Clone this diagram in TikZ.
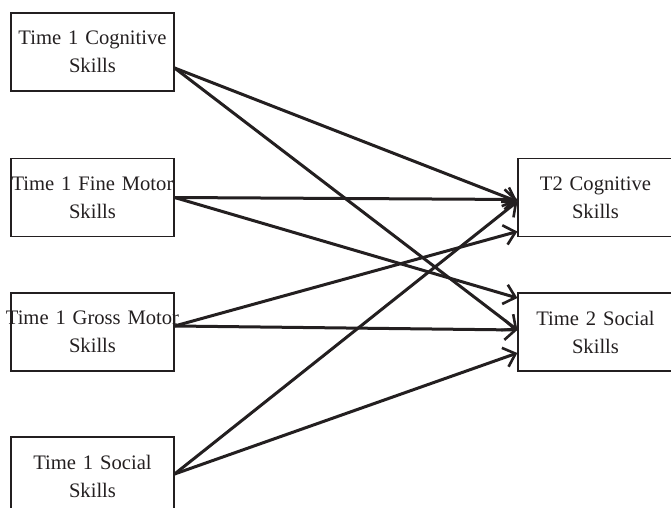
\documentclass[tikz,border=0pt]{standalone}
\usepackage{fontspec}
\setmainfont{Liberation Serif}
\usepackage{tikz}
\usetikzlibrary{arrows.meta}
\definecolor{inkx}{HTML}{231F20}
\tikzset{
  ar/.style={-{Straight Barb[length=5.5pt,width=10pt,line width=1.3pt]},line width=1.5pt,inkx},
  box/.style={draw=inkx,line width=0.6pt,text width=81.5pt,minimum height=39pt,align=center,inner sep=0pt,
    font=\fontsize{10.3}{14}\selectfont,text=inkx},
  outbox/.style={box,text width=77.5pt}
}
\begin{document}
\begin{tikzpicture}[x=0.5pt,y=-0.5pt]
\useasboundingbox (0,0) rectangle (671,508);
\clip (0,0) rectangle (671,508);
% time 1 measures
\node[box] (cog1) at (92.5,52) {Time 1 Cognitive\\Skills};
\node[box] (fine1) at (92.5,197.5) {\makebox[81.5pt]{Time 1 Fine Motor}\\Skills};
\node[box] (gross1) at (92.5,332) {\makebox[81.5pt]{Time 1 Gross Motor}\\Skills};
\node[box] (soc1) at (92.5,476) {Time 1 Social\\Skills};
% time 2 outcomes
\node[outbox] (cog2) at (595.5,197.5) {T2 Cognitive\\Skills};
\node[outbox] (soc2) at (595.5,332) {Time 2 Social\\Skills};
% paths
\draw[ar] ([yshift=-8pt]cog1.east) -- ([yshift=-2pt]cog2.west);
\draw[ar] ([yshift=-8pt]cog1.east) -- ([yshift=1pt]soc2.west);
\draw[ar] (fine1.east) -- ([yshift=-1pt]cog2.west);
\draw[ar] (fine1.east) -- ([yshift=17pt]soc2.west);
\draw[ar] ([yshift=3pt]gross1.east) -- ([yshift=-17pt]cog2.west);
\draw[ar] ([yshift=3pt]gross1.east) -- ([yshift=1pt]soc2.west);
\draw[ar] ([yshift=1pt]soc1.east) -- ([yshift=-2pt]cog2.west);
\draw[ar] ([yshift=1pt]soc1.east) -- ([yshift=-10.5pt]soc2.west);
\end{tikzpicture}
\end{document}
